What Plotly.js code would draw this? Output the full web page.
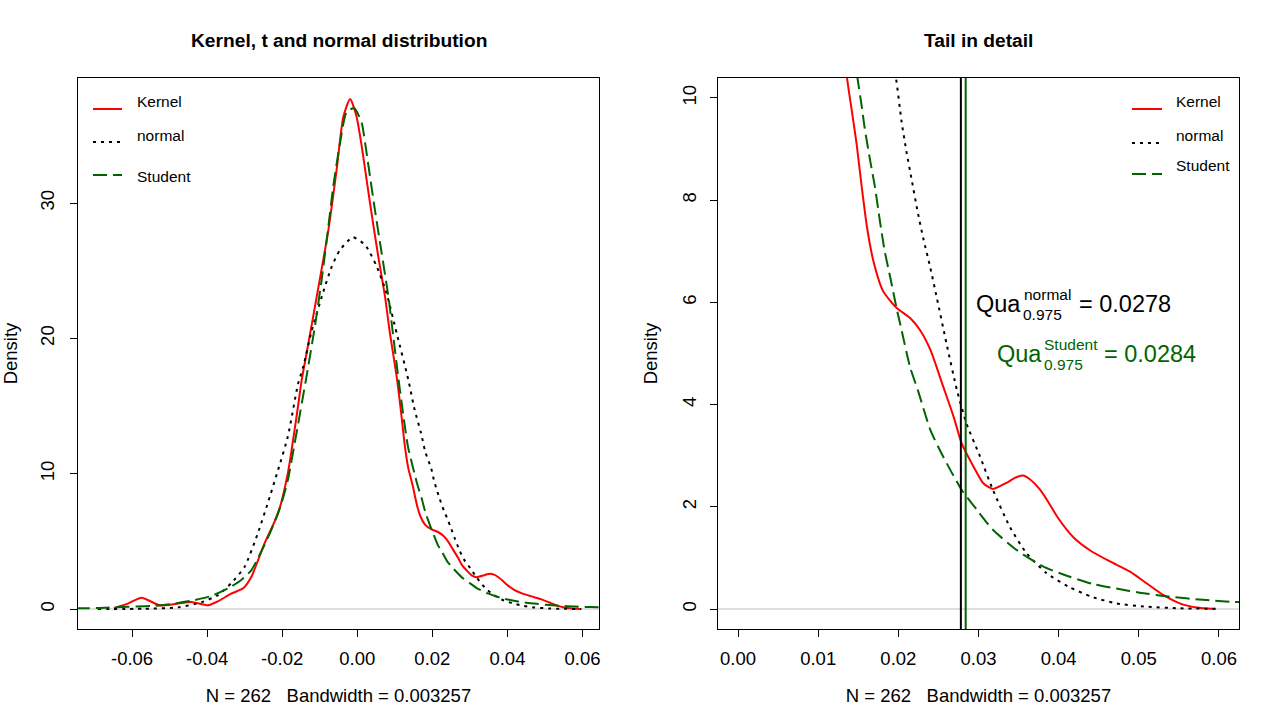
<!DOCTYPE html>
<html>
<head>
<meta charset="utf-8">
<script src="https://cdn.plot.ly/plotly-3.0.1.min.js"></script>
<style>html,body{margin:0;padding:0;background:#fff;}#chart{width:1280px;height:728px;}</style>
</head>
<body>
<div id="chart"></div>
<script>
// ---- data ----
const kernelX = [-0.0648,-0.0610,-0.0575,-0.0526,-0.0486,-0.0442,-0.0398,-0.0371,-0.0336,-0.0304,-0.0282,-0.0265,-0.0247,-0.0211,-0.0185,-0.0158,-0.0148,-0.0135,-0.0108,-0.0077,-0.0055,-0.0037,-0.0019,-0.0002,0.0012,0.0025,0.0038,0.0056,0.0074,0.0087,0.0105,0.0117,0.0127,0.0136,0.0142,0.0148,0.0154,0.0161,0.0169,0.0181,0.0198,0.0215,0.0227,0.0240,0.0256,0.0269,0.0279,0.0294,0.0306,0.0318,0.0335,0.0346,0.0355,0.0364,0.0377,0.0388,0.0398,0.0418,0.0439,0.0464,0.0489,0.0510,0.0531,0.0551,0.0572,0.0595];
const kernelY = [0.07,0.42,0.84,0.27,0.37,0.52,0.27,0.57,1.13,1.53,2.39,3.55,4.85,7.07,10.03,14.95,16.93,18.9,23.08,28.0,32.45,36.39,37.69,36.39,34.17,31.7,29.25,26.04,23.08,20.38,17.17,14.46,12.0,10.39,9.74,9.09,8.30,7.46,6.80,6.22,5.89,5.69,5.46,5.07,4.35,3.76,3.24,2.78,2.46,2.35,2.47,2.57,2.61,2.54,2.33,2.07,1.81,1.41,1.15,0.93,0.73,0.50,0.27,0.11,0.03,0.0];

const normalX = [-0.0691,-0.0566,-0.0478,-0.0416,-0.0371,-0.0336,-0.0300,-0.0265,-0.0233,-0.0211,-0.0185,-0.0158,-0.0144,-0.0121,-0.0091,-0.0068,-0.0046,-0.0012,0.0021,0.0052,0.0078,0.0105,0.0136,0.0153,0.0170,0.0181,0.0197,0.0204,0.0210,0.0217,0.0224,0.0231,0.0240,0.0248,0.0260,0.0273,0.0285,0.0302,0.0318,0.0339,0.0360,0.0385,0.0412,0.0441,0.0472,0.0510,0.0551,0.0597];
const normalY = [0.0,0.02,0.12,0.49,1.03,1.90,3.13,5.59,8.30,10.27,12.74,16.6,17.9,20.6,23.4,25.3,26.53,27.47,26.9,25.3,23.33,20.38,16.93,14.7,12.99,11.63,10.39,9.54,8.96,8.37,7.78,7.26,6.67,6.09,5.2,4.29,3.63,2.98,2.33,1.61,1.09,0.70,0.44,0.24,0.11,0.045,0.014,0.005];

const studentX = [-0.0750,-0.0691,-0.0611,-0.0549,-0.0495,-0.0442,-0.0389,-0.0344,-0.0309,-0.0282,-0.0256,-0.0229,-0.0202,-0.0185,-0.0162,-0.0137,-0.0113,-0.0095,-0.0077,-0.0064,-0.0046,-0.0028,-0.0008,0.0012,0.0021,0.0034,0.0047,0.0065,0.0083,0.0096,0.0109,0.0122,0.0135,0.0149,0.0154,0.0158,0.0165,0.0171,0.0177,0.0183,0.0190,0.0198,0.0204,0.02145,0.0225,0.0240,0.0256,0.0279,0.0298,0.0318,0.0348,0.0381,0.0414,0.0443,0.0472,0.0501,0.0539,0.0580,0.0618,0.0660];
const studentY = [0.06,0.07,0.17,0.22,0.37,0.61,0.96,1.53,2.14,2.88,4.24,5.84,7.81,9.53,12.99,16.9,20.87,24.32,28.26,31.21,34.42,36.76,37.0,35.9,34.42,31.95,29.49,26.29,23.08,20.13,17.17,14.46,12.0,10.39,9.87,9.41,8.76,8.24,7.59,7.00,6.48,5.87,5.46,4.74,4.25,3.50,2.98,2.33,1.94,1.55,1.15,0.83,0.63,0.49,0.40,0.32,0.24,0.18,0.14,0.12];

const qNormal = 0.0278;
const qStudent = 0.0284;

const seriesNames = ["Kernel", "normal", "Student"];
const leftTitle = "Kernel, t and normal distribution";
const rightTitle = "Tail in detail";
const xLabel = "N = 262   Bandwidth = 0.003257";
const yLabel = "Density";

const leftXTicks = [-0.06,-0.04,-0.02,0,0.02,0.04,0.06];
const leftXTickText = ["-0.06","-0.04","-0.02","0.00","0.02","0.04","0.06"];
const leftYTicks = [0,10,20,30];
const rightXTicks = [0,0.01,0.02,0.03,0.04,0.05,0.06];
const rightXTickText = ["0.00","0.01","0.02","0.03","0.04","0.05","0.06"];
const rightYTicks = [0,2,4,6,8,10];

// ---- styling ----
const W = 1280, H = 728;
const FONT = "Liberation Sans, Arial, sans-serif";
const RED = "#ff0000", BLACK = "#000000", GREEN = "#006400";
const DOT = "3px,5px", DASH = "14px,6px";
const px = v => v / W;
const py = v => 1 - v / H;

const styles = [
  {color: RED, dash: "solid"},
  {color: BLACK, dash: DOT},
  {color: GREEN, dash: DASH}
];
const seriesX = [kernelX, normalX, studentX];
const seriesY = [kernelY, normalY, studentY];

const traces = [];
[["x","y"],["x2","y2"]].forEach(([xa, ya]) => {
  for (let i = 0; i < 3; i++) {
    traces.push({
      type: "scatter", mode: "lines",
      x: seriesX[i], y: seriesY[i],
      xaxis: xa, yaxis: ya,
      line: {color: styles[i].color, width: 2, dash: styles[i].dash, shape: "spline", smoothing: 0.6},
      showlegend: false, hoverinfo: "skip"
    });
  }
});

const axisCommon = {
  showline: true, mirror: true, linecolor: BLACK, linewidth: 1,
  ticks: "outside", ticklen: 7, tickwidth: 1, tickcolor: BLACK,
  showgrid: false, zeroline: false, automargin: false,
  tickfont: {family: FONT, size: 18.5, color: BLACK},
  fixedrange: true
};
const titleFont = {family: FONT, size: 18.5, color: BLACK};
const yDom = [py(629), py(78)];

const layout = {
  width: W, height: H,
  margin: {l: 0, r: 0, t: 0, b: 0},
  paper_bgcolor: "#fff", plot_bgcolor: "#fff",
  font: {family: FONT, color: BLACK},
  xaxis: Object.assign({}, axisCommon, {
    domain: [px(78), px(599)], anchor: "y",
    range: [-0.0744, 0.0644], tickmode: "array", tickvals: leftXTicks, ticktext: leftXTickText,
    ticklabelstandoff: 6,
    title: {text: xLabel, font: titleFont, standoff: 20}
  }),
  yaxis: Object.assign({}, axisCommon, {
    domain: yDom, anchor: "x",
    range: [-1.478, 39.24], tickmode: "array", tickvals: leftYTicks, tickangle: -90,
    ticklabelstandoff: 9,
    title: {text: yLabel, font: titleFont, standoff: 20}
  }),
  xaxis2: Object.assign({}, axisCommon, {
    domain: [px(718), px(1239)], anchor: "y2",
    range: [-0.0025, 0.0625], tickmode: "array", tickvals: rightXTicks, ticktext: rightXTickText,
    ticklabelstandoff: 6,
    title: {text: xLabel, font: titleFont, standoff: 20}
  }),
  yaxis2: Object.assign({}, axisCommon, {
    domain: yDom, anchor: "x2",
    range: [-0.391, 10.39], tickmode: "array", tickvals: rightYTicks, tickangle: -90,
    ticklabelstandoff: 7,
    title: {text: yLabel, font: titleFont, standoff: 16}
  }),
  shapes: [
    {type: "line", xref: "x domain", yref: "y", x0: 0, x1: 1, y0: 0, y1: 0, line: {color: "#bebebe", width: 1}, layer: "below"},
    {type: "line", xref: "x2 domain", yref: "y2", x0: 0, x1: 1, y0: 0, y1: 0, line: {color: "#bebebe", width: 1}, layer: "below"},
    {type: "line", xref: "x2", yref: "y2 domain", x0: qNormal, x1: qNormal, y0: 0, y1: 1, line: {color: BLACK, width: 2}},
    {type: "line", xref: "x2", yref: "y2 domain", x0: qStudent, x1: qStudent, y0: 0, y1: 1, line: {color: GREEN, width: 2}}
  ],
  annotations: []
};

// legends (drawn manually to match spacing)
const legends = [
  {x0: 93, x1: 122, tx: 136, lineY: [109, 142, 175], textY: [102, 135, 176]},
  {x0: 1132, x1: 1162, tx: 1175, lineY: [109, 143, 174], textY: [102, 135, 166]}
];
legends.forEach(lg => {
  for (let i = 0; i < 3; i++) {
    layout.shapes.push({type: "line", xref: "paper", yref: "paper",
      x0: px(lg.x0), x1: px(lg.x1), y0: py(lg.lineY[i]), y1: py(lg.lineY[i]),
      line: {color: styles[i].color, width: 2, dash: styles[i].dash}});
    layout.annotations.push({xref: "paper", yref: "paper", x: px(lg.tx), y: py(lg.textY[i]),
      xanchor: "left", yanchor: "middle", showarrow: false, text: seriesNames[i], borderpad: 0,
      font: {family: FONT, size: 15.5, color: BLACK}});
  }
});

// titles
layout.annotations.push({xref: "paper", yref: "paper", x: px(338.5), y: py(40), xanchor: "center", yanchor: "middle",
  showarrow: false, text: leftTitle, font: {family: FONT, size: 19.2, color: BLACK, weight: 700}});
layout.annotations.push({xref: "paper", yref: "paper", x: px(978.5), y: py(40), xanchor: "center", yanchor: "middle",
  showarrow: false, text: rightTitle, font: {family: FONT, size: 19.2, color: BLACK, weight: 700}});

// quantile labels (stacked super/subscripts)
function quantLabel(color, supText, value, quaX, baseY, supX, supY, subX, subY, eqX) {
  const big = 23.5, small = 15.5;
  const add = (x, y, t, s) => layout.annotations.push({xref: "paper", yref: "paper", x: px(x), y: py(y),
    xanchor: "left", yanchor: "middle", showarrow: false, text: t, borderpad: 0,
    font: {family: FONT, size: s, color: color}});
  add(quaX, baseY, "Qua", big);
  add(supX, supY, supText, small);
  add(subX, subY, "0.975", small);
  add(eqX, baseY, "= " + value.toFixed(4), big);
}
quantLabel(BLACK, "normal", qNormal, 975, 304, 1023, 294.5, 1022, 314.5, 1078);
quantLabel(GREEN, "Student", qStudent, 996, 354, 1043, 344.5, 1043, 364.5, 1103);

Plotly.newPlot("chart", traces, layout, {displayModeBar: false, staticPlot: true});
</script>
</body>
</html>
